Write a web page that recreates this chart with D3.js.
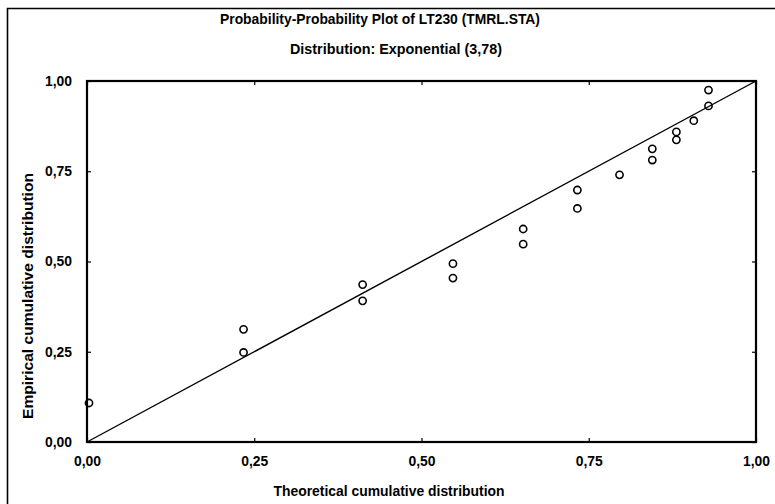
<!DOCTYPE html>
<html>
<head>
<meta charset="utf-8">
<script src="https://cdn.jsdelivr.net/npm/d3@7"></script>
<style>
  html, body { margin: 0; padding: 0; background: #fff; }
  svg { display: block; }
  text { font-family: "Liberation Sans", Arial, sans-serif; font-weight: bold; fill: #000; }
</style>
</head>
<body>
<svg id="chart" width="775" height="504"></svg>
<script>
// Theoretical (exponential CDF) and empirical cumulative proportions
const theoretical = [0.003, 0.234, 0.234, 0.412, 0.412, 0.547, 0.547, 0.652, 0.652,
                     0.733, 0.733, 0.796, 0.845, 0.845, 0.881, 0.881, 0.907, 0.929, 0.929];
const empirical   = [0.108, 0.312, 0.248, 0.436, 0.391, 0.494, 0.454, 0.590, 0.548,
                     0.698, 0.647, 0.740, 0.812, 0.781, 0.859, 0.837, 0.890, 0.975, 0.931];
const referenceLine = [0, 1];
const tickValues = [0, 0.25, 0.5, 0.75, 1];

const titleText = "Probability-Probability Plot of LT230 (TMRL.STA)";
const subtitleText = "Distribution: Exponential (3,78)";
const xTitle = "Theoretical cumulative distribution";
const yTitle = "Empirical cumulative distribution";

const svg = d3.select("#chart");
const plot = { left: 87, top: 81, right: 756, bottom: 442 };

const x = d3.scaleLinear().domain([0, 1]).range([plot.left, plot.right]);
const y = d3.scaleLinear().domain([0, 1]).range([plot.bottom, plot.top]);

const fmt = d3.formatLocale({ decimal: ",", thousands: ".", grouping: [3], currency: ["", ""] }).format(".2f");

// outer frame (open on the right and bottom)
svg.append("path")
  .attr("d", "M7.5,504 L7.5,8.5 L775,8.5")
  .attr("fill", "none").attr("stroke", "#000").attr("stroke-width", 1.6);

// titles, drawn in a condensed bold face
function condensedText(g, str, cx, baseline, size, width, rotate) {
  const t = g.append("text")
    .attr("text-anchor", "middle")
    .attr("font-size", size)
    .attr("textLength", width)
    .attr("lengthAdjust", "spacingAndGlyphs")
    .text(str);
  if (rotate) {
    t.attr("transform", `translate(${baseline},${cx}) rotate(-90)`);
  } else {
    t.attr("x", cx).attr("y", baseline);
  }
  return t;
}
condensedText(svg, titleText, 380, 24, 15, 320);
condensedText(svg, subtitleText, 396, 54, 15, 212);
condensedText(svg, xTitle, 389, 496, 15, 231);
condensedText(svg, yTitle, 296, 33, 15, 246, true);

// axes with inward ticks
const xAxis = d3.axisBottom(x).tickValues(tickValues).tickFormat(fmt)
  .tickSizeInner(-4).tickSizeOuter(0).tickPadding(14);
const yAxis = d3.axisLeft(y).tickValues(tickValues).tickFormat(fmt)
  .tickSizeInner(-4).tickSizeOuter(0).tickPadding(15);
const xTop = d3.axisTop(x).tickValues(tickValues).tickFormat("")
  .tickSizeInner(-4).tickSizeOuter(0);
const yRight = d3.axisRight(y).tickValues(tickValues).tickFormat("")
  .tickSizeInner(-4).tickSizeOuter(0);

function styleAxis(g) {
  g.select(".domain").remove();
  g.selectAll(".tick line").attr("stroke", "#000").attr("stroke-width", 1.2);
  g.selectAll(".tick text").attr("font-size", 14).attr("font-family", "'Liberation Sans', Arial, sans-serif")
    .attr("font-weight", "bold").attr("fill", "#000")
    .attr("textLength", 27).attr("lengthAdjust", "spacingAndGlyphs");
}
svg.append("g").attr("transform", `translate(0,${plot.bottom})`).call(xAxis).call(styleAxis);
svg.append("g").attr("transform", `translate(${plot.left},0)`).call(yAxis).call(styleAxis);
svg.append("g").attr("transform", `translate(0,${plot.top})`).call(xTop).call(styleAxis);
svg.append("g").attr("transform", `translate(${plot.right},0)`).call(yRight).call(styleAxis);

// reference diagonal
svg.append("line")
  .attr("x1", x(referenceLine[0])).attr("y1", y(referenceLine[0]))
  .attr("x2", x(referenceLine[1])).attr("y2", y(referenceLine[1]))
  .attr("stroke", "#000").attr("stroke-width", 1.4);

// observed points
svg.append("g").selectAll("circle")
  .data(theoretical.map((t, i) => [t, empirical[i]]))
  .join("circle")
  .attr("cx", d => x(d[0]))
  .attr("cy", d => y(d[1]))
  .attr("r", 3.6)
  .attr("fill", "none")
  .attr("stroke", "#000")
  .attr("stroke-width", 1.6);

// plot frame
svg.append("rect")
  .attr("x", plot.left).attr("y", plot.top)
  .attr("width", plot.right - plot.left).attr("height", plot.bottom - plot.top)
  .attr("fill", "none").attr("stroke", "#000").attr("stroke-width", 2.2);
</script>
</body>
</html>
